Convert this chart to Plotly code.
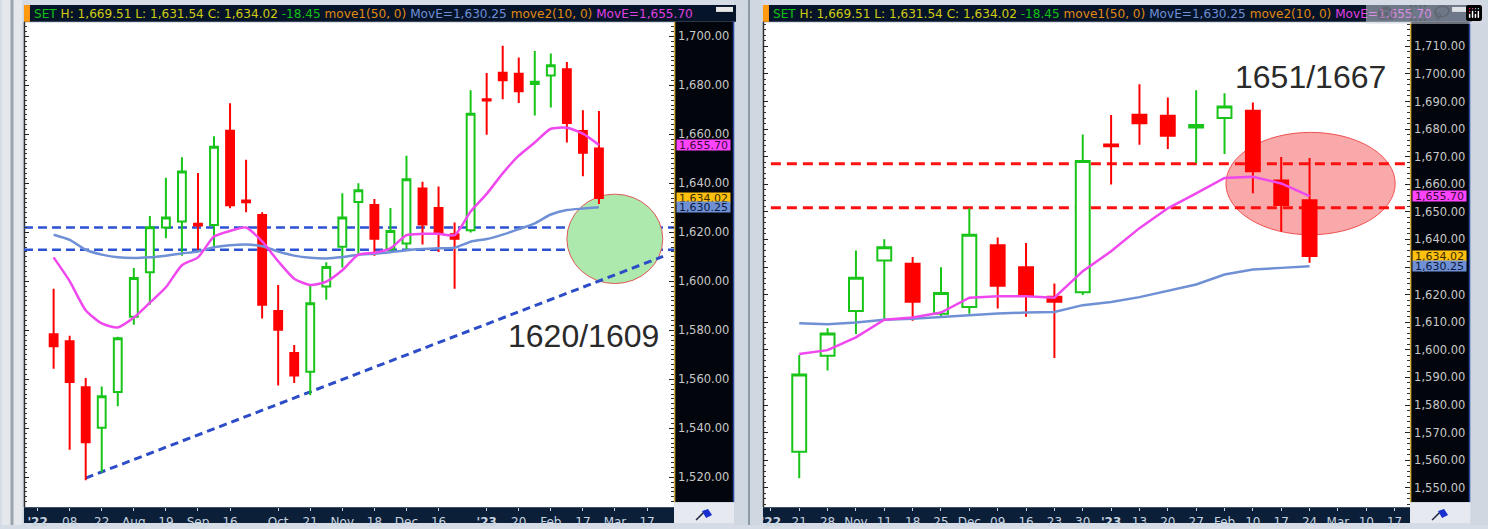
import plotly.graph_objects as go
import pandas as pd

# ---------------- data (weekly SET index) ----------------
week_start = "2022-07-01"
n_weeks = 35
opens = [1578.4, 1575.5, 1556.8, 1540.2, 1554.8, 1585.6, 1603.7, 1622.0, 1624.4, 1623.5,
         1623.0, 1661.5, 1633.0, 1627.1, 1587.9, 1570.7, 1563.1, 1597.9, 1614.1, 1632.4,
         1631.2, 1613.1, 1615.5, 1637.9, 1629.9, 1619.2, 1620.9, 1674.4, 1685.2, 1684.8,
         1680.6, 1684.0, 1686.6, 1661.4, 1654.2]
highs = [1597.0, 1577.8, 1560.5, 1557.1, 1577.4, 1605.5, 1626.7, 1642.3, 1650.7, 1644.2,
         1659.2, 1672.7, 1649.6, 1628.2, 1598.5, 1574.0, 1598.1, 1607.8, 1636.0, 1640.1,
         1633.6, 1629.9, 1651.3, 1640.7, 1638.7, 1624.0, 1678.0, 1685.1, 1696.2, 1691.4,
         1694.1, 1693.0, 1689.6, 1669.9, 1669.51]
lows = [1564.3, 1531.2, 1518.8, 1522.0, 1549.0, 1582.3, 1590.4, 1617.6, 1610.5, 1612.9,
        1614.3, 1629.8, 1628.2, 1584.8, 1557.5, 1558.5, 1553.5, 1592.5, 1605.7, 1611.1,
        1610.5, 1611.9, 1613.1, 1615.0, 1612.0, 1597.0, 1619.9, 1659.9, 1674.3, 1672.8,
        1667.7, 1671.0, 1656.7, 1642.9, 1631.54]
closes = [1573.5, 1558.9, 1534.3, 1553.1, 1576.8, 1601.4, 1622.1, 1626.1, 1644.9, 1622.8,
          1655.0, 1631.1, 1632.3, 1590.4, 1580.2, 1561.6, 1591.1, 1605.9, 1626.1, 1637.2,
          1617.4, 1620.6, 1641.7, 1623.2, 1619.5, 1617.4, 1668.4, 1673.8, 1682.1, 1677.6,
          1681.5, 1688.2, 1664.7, 1652.47, 1634.02]
ma50 = [1619.0, 1616.9, 1612.9, 1610.9, 1609.8, 1609.5, 1609.8, 1610.5, 1611.4, 1612.2,
        1613.9, 1614.7, 1615.0, 1614.3, 1612.2, 1610.5, 1609.6, 1609.3, 1609.9, 1610.9,
        1611.3, 1611.9, 1612.7, 1613.2, 1613.5, 1613.7, 1616.2, 1617.3, 1619.1, 1621.3,
        1623.7, 1627.3, 1629.1, 1629.7, 1630.25]
ma10 = [1609.8, 1600.1, 1588.2, 1582.8, 1581.2, 1585.2, 1591.3, 1597.6, 1606.6, 1609.8,
        1618.3, 1620.6, 1622.0, 1616.3, 1608.2, 1601.1, 1598.5, 1599.9, 1604.5, 1610.9,
        1611.7, 1613.5, 1618.9, 1619.4, 1619.4, 1618.9, 1628.5, 1635.7, 1644.1, 1651.3,
        1656.7, 1662.3, 1662.7, 1660.3, 1655.70]

support_levels = [1622.0, 1612.9]      # blue dashed lines (left panel)
resistance_levels = [1667.4, 1651.5]   # red dashed lines (right panel)
trend_start = ("2022-07-15", 1519.7)
trend_end = ("2023-03-24", 1610.2)
left_note = "1620/1609"
right_note = "1651/1667"

left_ticks = ["2022-06-24", "2022-07-08", "2022-07-22", "2022-08-05", "2022-08-19", "2022-09-02",
              "2022-09-16", "2022-10-07", "2022-10-21", "2022-11-04", "2022-11-18", "2022-12-02",
              "2022-12-16", "2023-01-06", "2023-01-20", "2023-02-03", "2023-02-17", "2023-03-03",
              "2023-03-17"]
left_labels = ["<b>'22</b>", "08", "22", "Aug", "19", "Sep", "16", "Oct", "21", "Nov", "18", "Dec",
               "16", "<b>'23</b>", "20", "Feb", "17", "Mar", "17"]
right_ticks = ["2022-10-14", "2022-10-21", "2022-10-28", "2022-11-04", "2022-11-11", "2022-11-18",
               "2022-11-25", "2022-12-02", "2022-12-09", "2022-12-16", "2022-12-23", "2022-12-30",
               "2023-01-06", "2023-01-13", "2023-01-20", "2023-01-27", "2023-02-03", "2023-02-10",
               "2023-02-17", "2023-02-24", "2023-03-03", "2023-03-10", "2023-03-17"]
right_labels = ["<b>'22</b>", "21", "28", "Nov", "11", "18", "25", "Dec", "09", "16", "23", "30",
                "<b>'23</b>", "13", "20", "27", "Feb", "10", "17", "24", "Mar", "10", "17"]

header_html = ("<span style='color:#10c010'>SET</span> "
               "<span style='color:#d0cc10'>H: 1,669.51 L: 1,631.54 C: 1,634.02</span> "
               "<span style='color:#10c010'>-18.45</span> "
               "<span style='color:#e08a10'>move1(50, 0)</span> "
               "<span style='color:#6f8fd6'>MovE=1,630.25</span> "
               "<span style='color:#e08a10'>move2(10, 0)</span> "
               "<span style='color:#e040e0'>MovE=1,655.70</span>")

# ---------------- layout geometry (pixels) ----------------
W, H = 1488, 529
def px(x): return x / W
def py(y): return 1 - y / H

dates = pd.date_range(week_start, periods=n_weeks, freq="7D")
R0 = 16  # right panel starts here

def wk(base, k):
    return base + pd.Timedelta(days=k * 7)

left_range = [wk(dates[0], -1.849), wk(dates[0], 38.686)]
right_range = [wk(dates[R0], -1.2786), wk(dates[R0], 21.546)]

FONT = "Liberation Sans"
UIFONT = "DejaVu Sans"
GREEN = "#18c418"
RED = "#ff0000"

fig = go.Figure()

def add_panel(xa, ya, sl, spline):
    fig.add_trace(go.Candlestick(
        x=dates[sl], open=opens[sl], high=highs[sl], low=lows[sl], close=closes[sl],
        xaxis=xa, yaxis=ya, showlegend=False,
        increasing=dict(line=dict(color=GREEN, width=2), fillcolor="white"),
        decreasing=dict(line=dict(color=RED, width=2), fillcolor=RED),
        hoverinfo="skip"))
    shape = "spline" if spline else "linear"
    fig.add_trace(go.Scatter(x=dates[sl], y=ma50[sl], mode="lines", xaxis=xa, yaxis=ya,
                             line=dict(color="#7090d6", width=2.5, shape=shape, smoothing=0.6),
                             showlegend=False, hoverinfo="skip"))
    fig.add_trace(go.Scatter(x=dates[sl], y=ma10[sl], mode="lines", xaxis=xa, yaxis=ya,
                             line=dict(color="#ee48ee", width=2.5, shape=shape, smoothing=0.6),
                             showlegend=False, hoverinfo="skip"))

add_panel("x", "y", slice(0, n_weeks), True)
add_panel("x2", "y2", slice(R0, n_weeks), False)

yax_common = dict(side="right", showgrid=False, zeroline=False, showline=False,
                  ticks="inside", ticklen=5, tickcolor="#222222", tickwidth=1,
                  mirror="ticks", tickformat=",.2f",
                  tickfont=dict(family=UIFONT, size=11.5, color="#c8c8c8"),
                  ticklabelstandoff=3, fixedrange=True)
xax_common = dict(type="date", showgrid=False, zeroline=False, showline=False,
                  ticks="outside", ticklen=3, tickcolor="#c8d4e0",
                  tickfont=dict(family=UIFONT, size=12, color="#c8d4e0"),
                  rangeslider=dict(visible=False), fixedrange=True, tickangle=0)

fig.update_layout(
    width=W, height=H, autosize=False,
    margin=dict(l=0, r=0, t=0, b=0, pad=0),
    paper_bgcolor="#d5dce5", plot_bgcolor="white",
    boxgap=0.3,
    xaxis=dict(domain=[px(22), px(673)], range=left_range, anchor="y",
               tickvals=left_ticks, ticktext=left_labels, **xax_common),
    yaxis=dict(domain=[py(511), py(23)], range=[1507.82, 1705.55], anchor="x",
               tick0=1520, dtick=20,
               minor=dict(ticks="inside", ticklen=3, dtick=2, tickcolor="#333333"),
               **yax_common),
    xaxis2=dict(domain=[px(762), px(1410)], range=right_range, anchor="y2",
                tickvals=right_ticks, ticktext=right_labels, **xax_common),
    yaxis2=dict(domain=[py(511), py(23)], range=[1543.0, 1718.5], anchor="x2",
                tick0=1550, dtick=10,
                minor=dict(ticks="inside", ticklen=3, dtick=2, tickcolor="#333333"),
                **yax_common),
)

shapes = []
def prect(x0, y0, x1, y1, fill, line=None):
    shapes.append(dict(type="rect", xref="paper", yref="paper",
                       x0=px(x0), x1=px(x1), y0=py(y1), y1=py(y0),
                       fillcolor=fill, line=dict(width=0) if line is None else line,
                       layer="below"))
def pline(x0, y0, x1, y1, color, width):
    shapes.append(dict(type="line", xref="paper", yref="paper",
                       x0=px(x0), x1=px(x1), y0=py(y0), y1=py(y1),
                       line=dict(color=color, width=width), layer="below"))

# window chrome
prect(0, 0, 20, H, "#e4e8ec")
pline(10, 0, 10, H, "#9aa4ae", 3)
prect(733, 0, 761, H, "#cfd7e0")
pline(748, 0, 748, H, "#8d9aa8", 2)
prect(1471, 0, W, H, "#cfd7e0")
for (a, b, yr) in [(22, 735, 673), (762, 1472, 1410)]:
    prect(a, 5, b, 22, "#06142a")
    prect(a, 5, a + 6, 22, "#ff9a10")
    prect(b - 20, 7, b - 3, 12, "#e8e8e8")
    prect(yr, 22, b - 2, 506, "#02060c")
    pline(yr + 0.5, 22, yr + 0.5, 506, "#d8b040", 1.5)
    pline(b - 2.5, 22, b - 2.5, 506, "#2a4aa8", 1.5)
    prect(a, 511, yr, 527, "#0b2038")
    prect(yr, 506, b - 2, 527, "#e6eaf0")
    pline(a + 0.5, 22, a + 0.5, 511, "#303030", 1.5)
    # flag icon
    cx = (yr + b - 2) / 2
    pline(cx - 8, 524, cx + 1, 515, "#202840", 1.5)
    shapes.append(dict(type="path", xref="paper", yref="paper",
                       path=f"M {px(cx-2)},{py(515)} L {px(cx+4)},{py(513)} L {px(cx+8)},{py(519)} L {px(cx+2)},{py(522)} Z",
                       fillcolor="#1830d0", line=dict(width=0), layer="below"))

# left panel drawings
shapes.append(dict(type="circle", xref="x", yref="y",
                   x0=wk(dates[0], 32.0), x1=wk(dates[0], 37.98), y0=1599.1, y1=1635.6,
                   fillcolor="#ade8ad", line=dict(color="#e05858", width=1), layer="below"))
for lv in support_levels:
    shapes.append(dict(type="line", xref="x domain", yref="y", x0=0, x1=1, y0=lv, y1=lv,
                       line=dict(color="#2c52d4", width=2.5, dash="9px,5px"), layer="below"))
shapes.append(dict(type="line", xref="x", yref="y",
                   x0=trend_start[0], y0=trend_start[1], x1=trend_end[0], y1=trend_end[1],
                   line=dict(color="#2c4cc8", width=3, dash="8px,5px"), layer="below"))

# right panel drawings
shapes.append(dict(type="circle", xref="x2", yref="y2",
                   x0=wk(dates[R0], 15.05), x1=wk(dates[R0], 21.02), y0=1641.7, y1=1678.8,
                   fillcolor="#f9a9a9", line=dict(color="#f05050", width=1), layer="below"))
for lv in resistance_levels:
    shapes.append(dict(type="line", xref="x2", yref="y2",
                       x0=wk(dates[R0], -1.0), x1=right_range[1], y0=lv, y1=lv,
                       line=dict(color="#ff1010", width=3, dash="10px,6px"), layer="below"))

fig.update_layout(shapes=shapes)

ann = []
for x0 in (30, 770):
    ann.append(dict(xref="paper", yref="paper", x=px(x0), y=py(14.5), xanchor="left",
                    yanchor="middle", text=header_html, showarrow=False,
                    font=dict(family=UIFONT, size=12.1)))

def vbox(yref, xpx, val, bg, fg):
    ann.append(dict(xref="paper", yref=yref, x=px(xpx), y=val, xanchor="left", yanchor="middle",
                    text=f"{val:,.2f}", showarrow=False, bgcolor=bg, borderpad=0,
                    width=53, height=10, align="center",
                    font=dict(family=UIFONT, size=11, color=fg)))

for yref, xpx in (("y", 675), ("y2", 1412)):
    vbox(yref, xpx, ma10[-1], "#ff44ff", "#3a0a3a")
    vbox(yref, xpx, closes[-1], "#ffc010", "#3a2a00")
    vbox(yref, xpx, ma50[-1], "#7090d6", "#0a1a40")

ann.append(dict(xref="paper", yref="paper", x=px(582.5), y=py(339), text=left_note,
                showarrow=False, xanchor="center", yanchor="middle",
                font=dict(family=FONT, size=32, color="#2a2a2a")))
ann.append(dict(xref="paper", yref="paper", x=px(1310), y=py(77.5), text=right_note,
                showarrow=False, xanchor="center", yanchor="middle",
                font=dict(family=FONT, size=32, color="#2a2a2a")))
fig.update_layout(annotations=ann)

fig.write_html("out.html",
               post_script="document.body.style.margin='0';document.body.style.overflow='hidden';")
